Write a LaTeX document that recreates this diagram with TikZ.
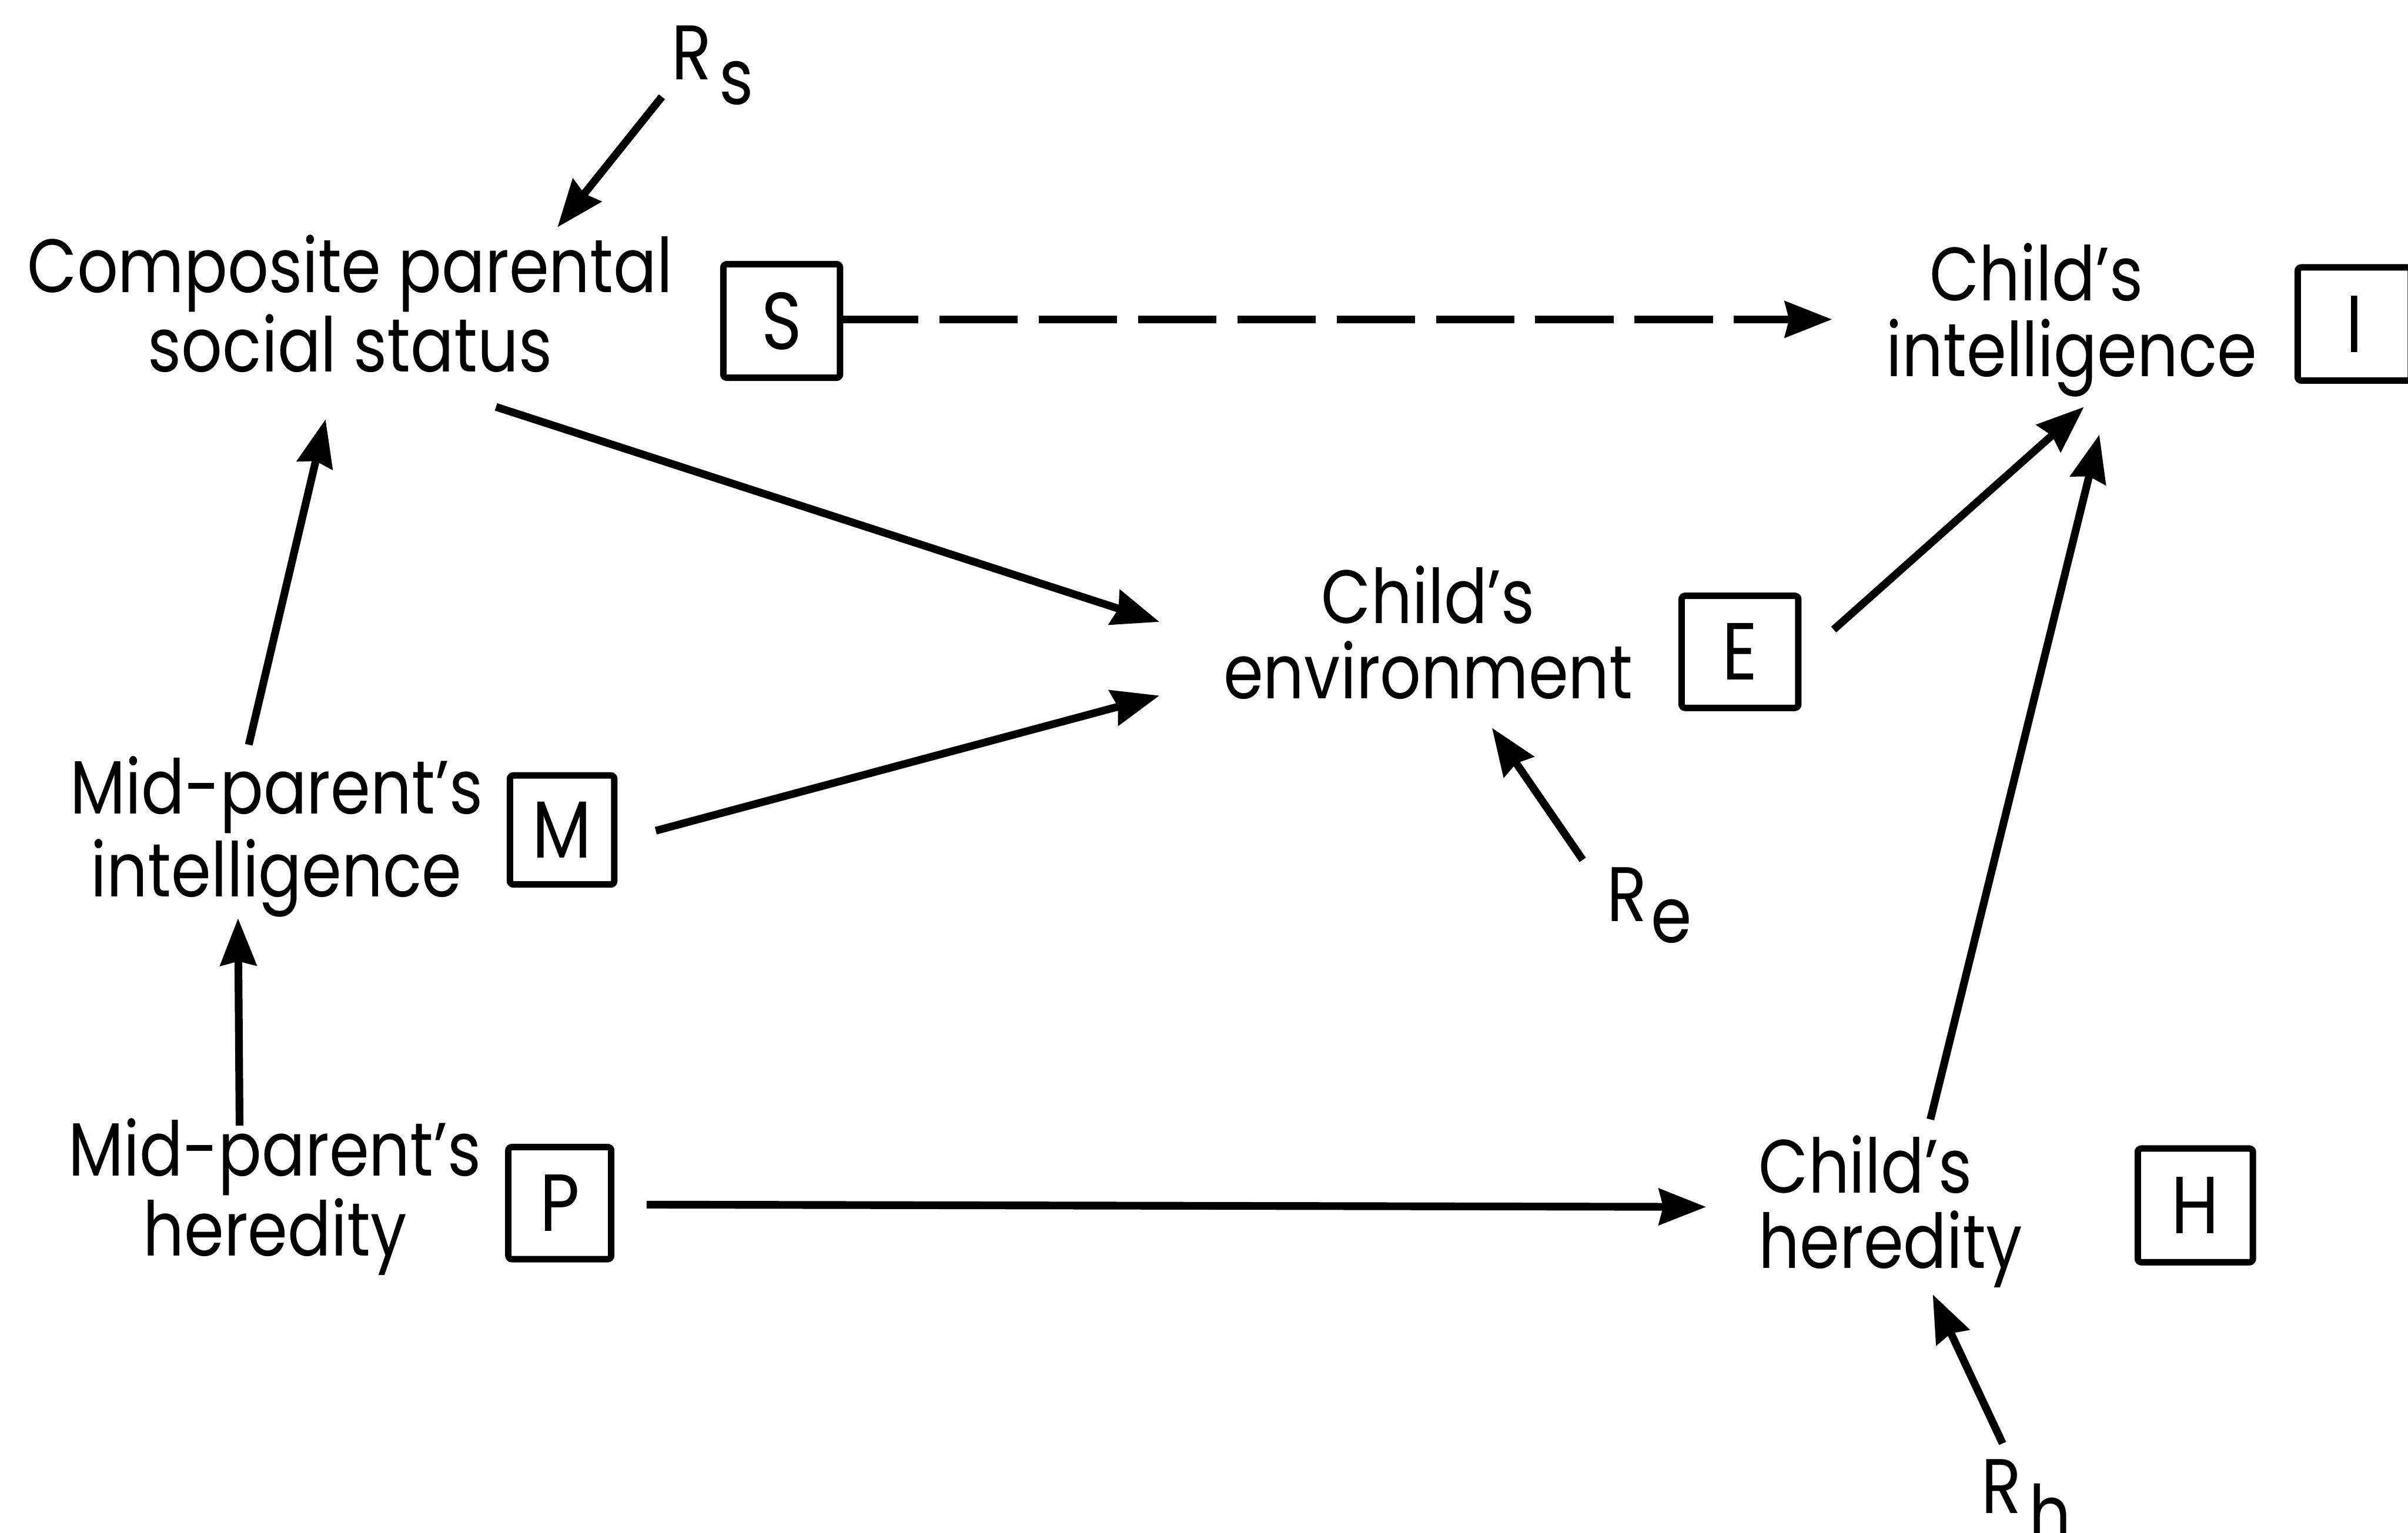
\documentclass[tikz,border=0pt]{standalone}
\usepackage{fontspec}
\setmainfont{Poppins}[FakeStretch=0.85]
\usetikzlibrary{arrows.meta}
\begin{document}
\begin{tikzpicture}[x=0.03cm,y=-0.03cm,
  lbl/.style={inner sep=0pt, anchor=base, align=center},
  fs/.style={font=\fontsize{42}{#1}\selectfont},
  vbox/.style 2 args={draw, line width=3.6pt, rounded corners=2pt, inner sep=0pt,
     minimum width=#1, minimum height=#2, font=\fontsize{45}{48}\selectfont},
  arr/.style={line width=4.3pt, -{Stealth[length=0.92cm, width=0.7cm, inset=0.08cm]}},
  dsh/.style={arr, dash pattern=on 1.53cm off 0.41cm},
  rlbl/.style={inner sep=0pt, anchor=base west, font=\fontsize{43}{46}\selectfont},
]
\useasboundingbox (0,0) rectangle (1568,998);

% text labels (placed at the baseline of their last line)
\node[lbl, fs=42.7] (lS) at (228,242) {Composite parental\\social status};
\node[lbl, fs=42] (lI) at (1349,245) {Child’s\hspace*{1.38cm}\\intelligence};
\node[lbl, fs=42] (lE) at (930,455) {Child’s\\environment};
\node[lbl, fs=46] (lM) at (180,584) {Mid-parent’s\\intelligence};
\node[lbl, fs=44.4] (lP) at (179,818) {Mid-parent’s\\heredity};
\node[lbl, fs=41.8, anchor=base west, align=left] (lH) at (1145,826) {Child’s\\heredity};

% boxed letters
\node[vbox={2.28cm}{2.22cm}] (bS) at (509,209) {S};
\node[vbox={2.21cm}{2.21cm}] (bI) at (1533,211) {I};
\node[vbox={2.28cm}{2.19cm}] (bE) at (1133,424.5) {E};
\node[vbox={2.04cm}{2.13cm}] (bM) at (366,540.5) {M};
\node[vbox={2.01cm}{2.19cm}] (bP) at (364.5,783.5) {P};
\node[vbox={2.25cm}{2.22cm}] (bH) at (1429.5,785) {H};

% residual labels
\node[rlbl] (rs) at (437,52) {R\kern0.15cm\raisebox{-0.48cm}{s}};
\node[rlbl] (re) at (1046,600) {R\kern0.08cm\raisebox{-0.42cm}{e}};
\node[rlbl] (rh) at (1290,985.4) {R\kern0.15cm\raisebox{-0.54cm}{h}};

% connector end points
\coordinate (rs-t) at (431,63);   \coordinate (lS-n) at (363,148);
\coordinate (bS-e) at (547,208);  \coordinate (lI-w) at (1193,208);
\coordinate (lS-se) at (323,265); \coordinate (lE-w1) at (755,405);
\coordinate (lM-n) at (162,485);  \coordinate (lS-s) at (212,273);
\coordinate (bM-e) at (427,541);  \coordinate (lE-w2) at (755,453);
\coordinate (bE-e) at (1194,410); \coordinate (lI-s1) at (1357,265);
\coordinate (re-t) at (1030.6,560); \coordinate (lE-s) at (971.5,474);
\coordinate (lP-n) at (156,733);  \coordinate (lM-s) at (155,598);
\coordinate (bP-e) at (421,784.5); \coordinate (lH-w) at (1111,786);
\coordinate (lH-n) at (1257,729); \coordinate (lI-s2) at (1367,283);
\coordinate (rh-t) at (1304,940); \coordinate (lH-s) at (1258.5,843);

% connectors
\draw[arr] (rs-t) -- (lS-n);
\draw[dsh] (bS-e) -- (lI-w);
\draw[arr] (lS-se) -- (lE-w1);
\draw[arr] (lM-n) -- (lS-s);
\draw[arr] (bM-e) -- (lE-w2);
\draw[arr] (bE-e) -- (lI-s1);
\draw[arr] (re-t) -- (lE-s);
\draw[arr] (lP-n) -- (lM-s);
\draw[arr] (bP-e) -- (lH-w);
\draw[arr] (lH-n) -- (lI-s2);
\draw[arr] (rh-t) -- (lH-s);
\end{tikzpicture}
\end{document}
